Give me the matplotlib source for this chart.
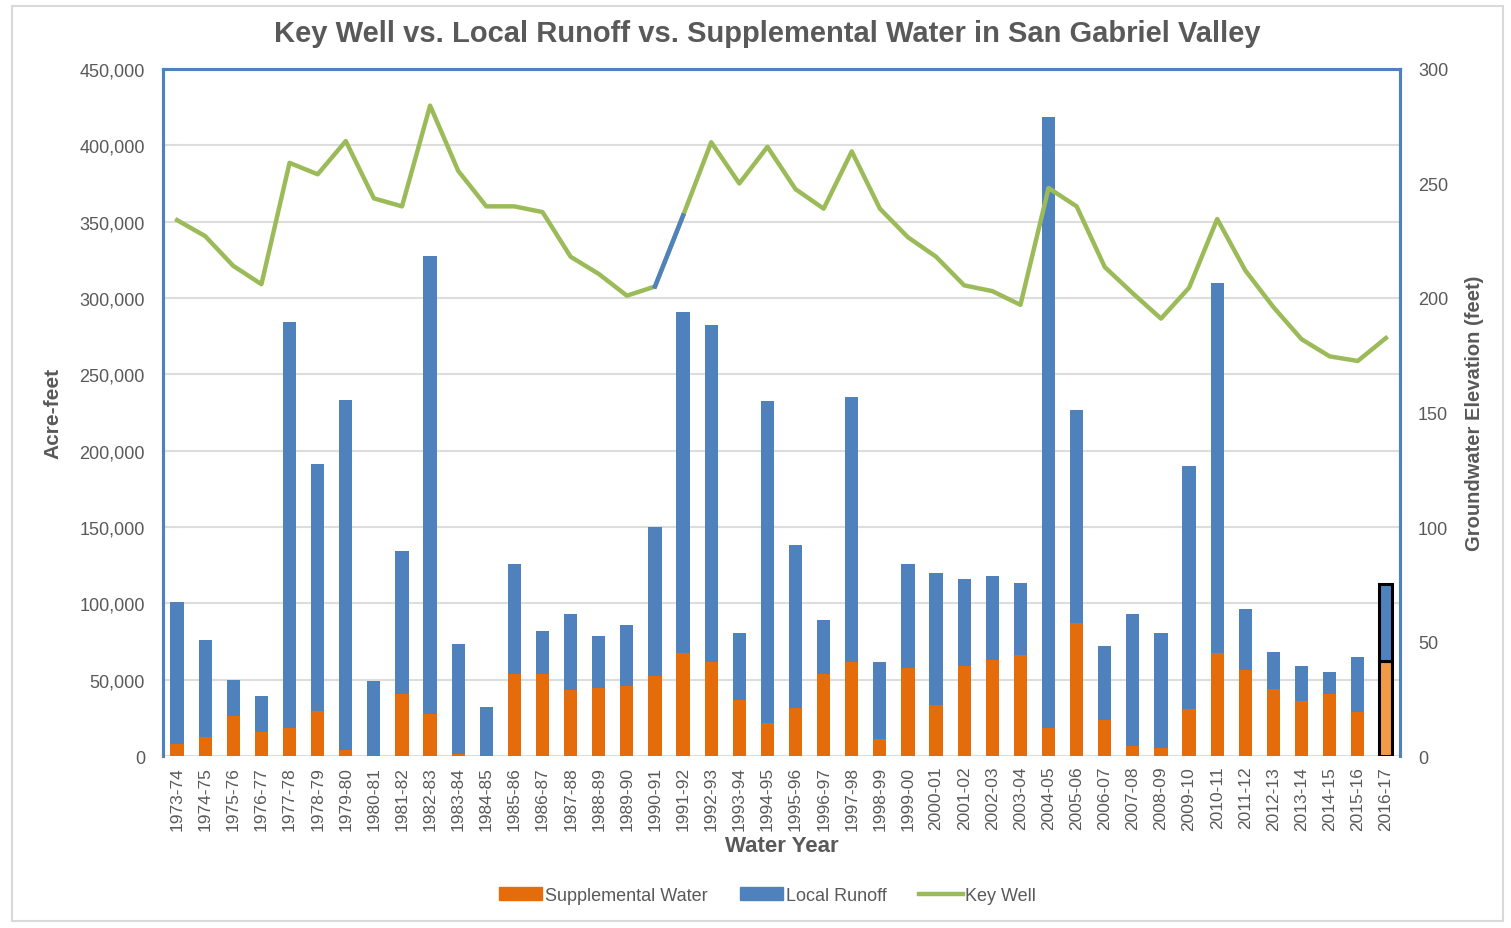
import numpy as np
import matplotlib.pyplot as plt
from matplotlib.patches import Patch, Rectangle
from matplotlib.lines import Line2D
from matplotlib.ticker import FuncFormatter

plt.rcParams['font.family'] = ['Liberation Sans', 'DejaVu Sans']

years = ["1973-74", "1974-75", "1975-76", "1976-77", "1977-78", "1978-79", "1979-80",
         "1980-81", "1981-82", "1982-83", "1983-84", "1984-85", "1985-86", "1986-87",
         "1987-88", "1988-89", "1989-90", "1990-91", "1991-92", "1992-93", "1993-94",
         "1994-95", "1995-96", "1996-97", "1997-98", "1998-99", "1999-00", "2000-01",
         "2001-02", "2002-03", "2003-04", "2004-05", "2005-06", "2006-07", "2007-08",
         "2008-09", "2009-10", "2010-11", "2011-12", "2012-13", "2013-14", "2014-15",
         "2015-16", "2016-17"]

# supplemental water (acre-feet)
supplemental = [8000, 12500, 26000, 16000, 18500, 29500, 4000, 0, 40500, 27500, 1500, 0,
                54000, 54000, 43000, 44500, 46000, 52500, 67500, 61500, 37000, 21500,
                31500, 53500, 61500, 11000, 57500, 33500, 59000, 63000, 66000, 18500,
                87000, 23500, 6500, 5000, 31000, 67500, 56500, 44000, 36000, 40500,
                29000, 62500]

# total (supplemental + local runoff), acre-feet
total = [101000, 76000, 50000, 39500, 284000, 191500, 233500, 49000, 134500, 327500,
         73500, 32000, 125500, 82000, 93000, 78500, 86000, 150000, 291000, 282500,
         80500, 232500, 138000, 89000, 235000, 61500, 125500, 120000, 116000, 118000,
         113500, 418500, 226500, 72000, 93000, 80500, 190000, 310000, 96500, 68000,
         59000, 55000, 65000, 112500]

local_runoff = [t - s for t, s in zip(total, supplemental)]

# key well groundwater elevation (feet)
key_well = [234, 227, 214, 206, 259, 254, 268.5, 243.5, 240, 284, 255.5, 240, 240,
            237.5, 218, 210.5, 201, 205, 236, 268, 250, 266, 247.5, 239, 264, 239,
            226.5, 218, 205.5, 203, 197, 248, 240, 213.5, 202, 191, 204.5, 234.5,
            212, 196, 182, 174.5, 172.5, 182.5]

orange = '#E46C0A'
blue = '#4F81BD'
green = '#9BBB59'
gray = '#595959'

fig = plt.figure(figsize=(15.11, 9.29), dpi=100)
fig.patches.append(Rectangle((0.008, 0.007), 0.987, 0.985, transform=fig.transFigure,
                             fill=False, edgecolor='#D9D9D9', linewidth=1.5))
ax = fig.add_axes([0.1079, 0.1851, 0.8186, 0.7396])
ax2 = ax.twinx()

x = np.arange(len(years))
w = 0.47
last = len(years) - 1
ax.bar(x[:last], supplemental[:last], width=w, color=orange, zorder=3)
ax.bar(x[:last], local_runoff[:last], width=w, bottom=supplemental[:last], color=blue, zorder=3)
# latest year is highlighted with a black outline
ax.bar(x[last], supplemental[last], width=w, color='#F39A45', edgecolor='black',
       linewidth=2.2, zorder=3)
ax.bar(x[last], local_runoff[last], width=w, bottom=supplemental[last], color=blue,
       edgecolor='black', linewidth=2.2, zorder=3)

ax.set_ylim(0, 450000)
ax.set_xlim(-0.5, 43.5)
ax.set_yticks(np.arange(0, 450001, 50000))
ax.yaxis.set_major_formatter(FuncFormatter(lambda v, p: f"{int(v):,}"))
ax.grid(axis='y', color='#DDDDDD', linewidth=1.5, zorder=0)
ax.set_axisbelow(True)
ax.set_xticks(x)
ax.set_xticklabels(years, rotation=90, fontsize=12.5, color=gray)
ax.tick_params(axis='both', length=0, colors=gray)
ax.tick_params(axis='y', labelsize=13, pad=13)
ax.tick_params(axis='x', pad=7)

ax2.plot(x, key_well, color=green, linewidth=3.2, zorder=4)
ax2.plot(x[17:19], key_well[17:19], color=blue, linewidth=3.2, zorder=5)
ax2.set_ylim(0, 300)
ax2.set_yticks(np.arange(0, 301, 50))
ax2.tick_params(axis='y', length=0, labelsize=13, colors=gray, pad=13)

for a in (ax, ax2):
    for s in ('left', 'right', 'top'):
        a.spines[s].set_color('#4F81BD')
        a.spines[s].set_linewidth(2.2)
    a.spines['bottom'].set_visible(False)

ax.set_ylabel('Acre-feet', fontsize=15, fontweight='bold', color=gray, labelpad=12)
ax2.set_ylabel('Groundwater Elevation (feet)', fontsize=14.5, fontweight='bold', color=gray,
               labelpad=12)
ax.set_xlabel('Water Year', fontsize=16, fontweight='bold', color=gray, labelpad=4)
fig.suptitle('Key Well vs. Local Runoff vs. Supplemental Water in San Gabriel Valley',
             x=0.508, y=0.978, fontsize=21, fontweight='bold', color=gray)

handles = [Patch(color=orange, label='Supplemental Water'),
           Patch(color=blue, label='Local Runoff'),
           Line2D([0], [0], color=green, linewidth=3.2, label='Key Well')]
fig.legend(handles=handles, loc='center', bbox_to_anchor=(0.508, 0.035), ncol=3,
           frameon=False, fontsize=13, handlelength=2.4, handletextpad=0.15,
           columnspacing=1.8, labelcolor=gray)

fig.savefig('out.png', dpi=100)
